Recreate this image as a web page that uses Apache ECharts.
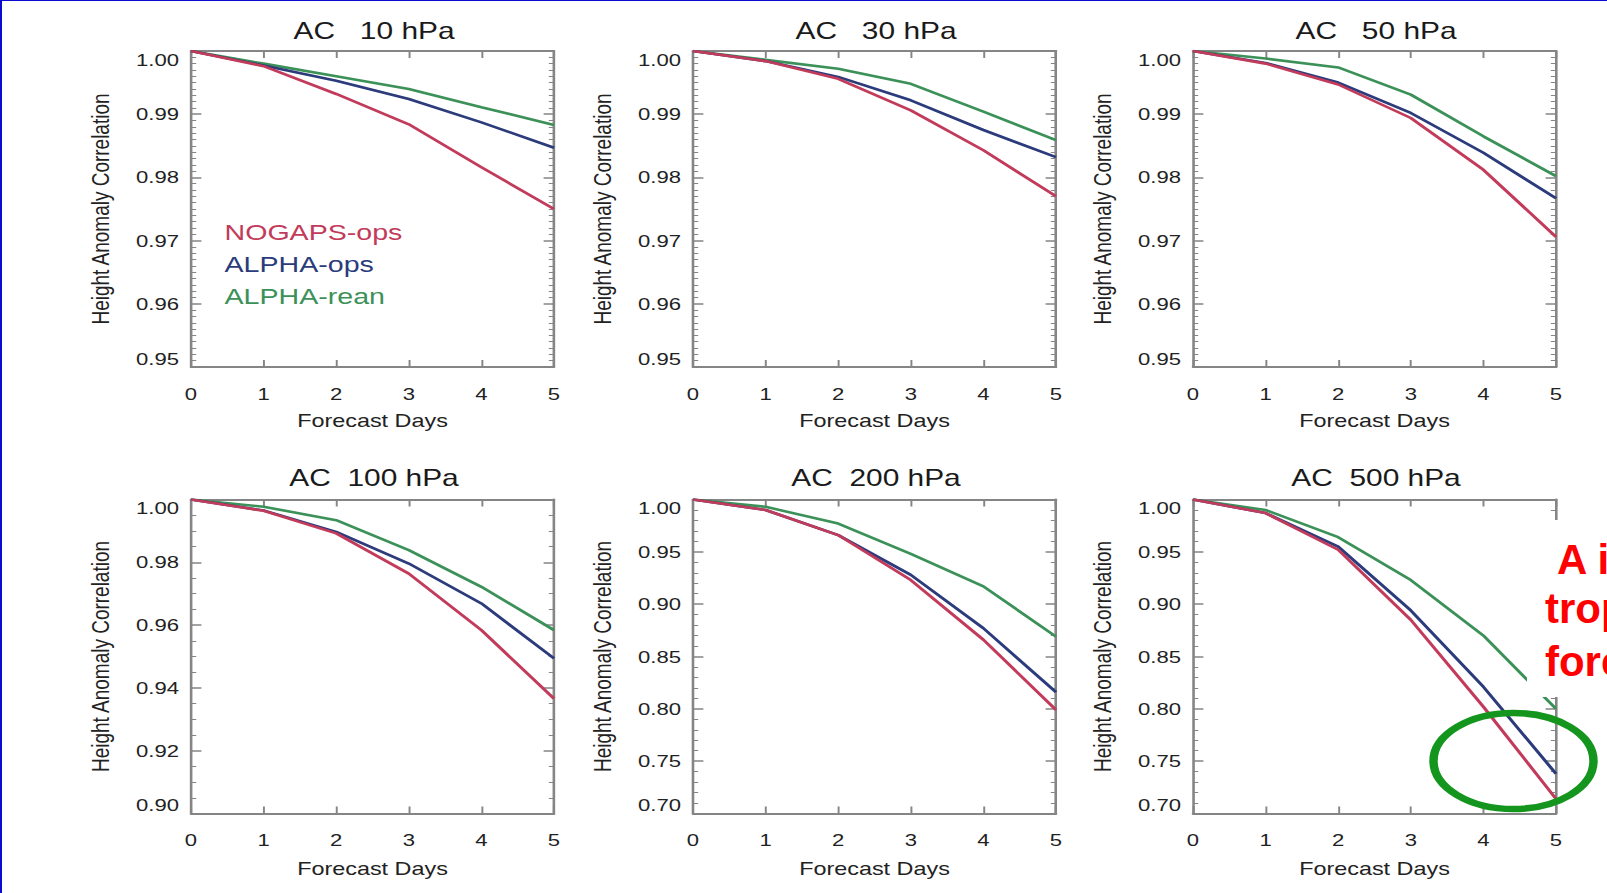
<!DOCTYPE html>
<html>
<head>
<meta charset="utf-8">
<script src="https://cdn.jsdelivr.net/npm/echarts@6/dist/echarts.min.js"></script>
<style>
  html, body { margin: 0; padding: 0; background: #fff; overflow: hidden; }
  #chart { position: absolute; left: 0; top: 0; width: 1236px; height: 893px; transform: scaleX(1.30016); transform-origin: 0 0; }
  #frame { position: absolute; left: 0; top: 0; width: 1607px; height: 893px; box-sizing: border-box;
           border-left: 2px solid #0a0ad0; border-top: 1px solid #0a0ad0; pointer-events: none; z-index: 5; }
</style>
</head>
<body>
<div id="chart"></div>
<div id="frame"></div>
<script>
// ---------------- data ----------------
const days = [0, 1, 2, 3, 4, 5];
const seriesNames = ['NOGAPS-ops', 'ALPHA-ops', 'ALPHA-rean'];
const panelTitles = ['AC   10 hPa', 'AC   30 hPa', 'AC   50 hPa', 'AC  100 hPa', 'AC  200 hPa', 'AC  500 hPa'];

const nogaps10 = [1.000, 0.9976, 0.9932, 0.9884, 0.9816, 0.9750];
const alphaOps10 = [1.000, 0.9977, 0.9953, 0.9924, 0.9887, 0.9847];
const alphaRean10 = [1.000, 0.9980, 0.9960, 0.9940, 0.9911, 0.9883];

const nogaps30 = [1.000, 0.9984, 0.9956, 0.9906, 0.9843, 0.9770];
const alphaOps30 = [1.000, 0.9984, 0.9959, 0.9922, 0.9875, 0.9832];
const alphaRean30 = [1.000, 0.9986, 0.9972, 0.9948, 0.9904, 0.9859];

const nogaps50 = [1.000, 0.9980, 0.9947, 0.9894, 0.9812, 0.9706];
const alphaOps50 = [1.000, 0.9981, 0.9950, 0.9902, 0.9839, 0.9767];
const alphaRean50 = [1.000, 0.9988, 0.9974, 0.9931, 0.9865, 0.9802];

const nogaps100 = [1.000, 0.9964, 0.9892, 0.9764, 0.9584, 0.9366];
const alphaOps100 = [1.000, 0.9965, 0.9897, 0.9796, 0.9669, 0.9494];
const alphaRean100 = [1.000, 0.9977, 0.9934, 0.9839, 0.9722, 0.9584];

const nogaps200 = [1.000, 0.990, 0.966, 0.923, 0.866, 0.799];
const alphaOps200 = [1.000, 0.990, 0.966, 0.928, 0.877, 0.816];
const alphaRean200 = [1.000, 0.993, 0.977, 0.948, 0.917, 0.869];

const nogaps500 = [1.000, 0.987, 0.952, 0.885, 0.802, 0.714];
const alphaOps500 = [1.000, 0.987, 0.955, 0.894, 0.821, 0.738];
const alphaRean500 = [1.000, 0.990, 0.964, 0.923, 0.870, 0.800];

// y tick values per panel
const yTicksUpper = [0.95, 0.96, 0.97, 0.98, 0.99, 1.00];
const yTicks100 = [0.90, 0.92, 0.94, 0.96, 0.98, 1.00];
const yTicksLower = [0.70, 0.75, 0.80, 0.85, 0.90, 0.95, 1.00];
const xTicks = [0, 1, 2, 3, 4, 5];

const panelData = [
  [nogaps10, alphaOps10, alphaRean10],
  [nogaps30, alphaOps30, alphaRean30],
  [nogaps50, alphaOps50, alphaRean50],
  [nogaps100, alphaOps100, alphaRean100],
  [nogaps200, alphaOps200, alphaRean200],
  [nogaps500, alphaOps500, alphaRean500]
];
const panelTicks = [yTicksUpper, yTicksUpper, yTicksUpper, yTicks100, yTicksLower, yTicksLower];
const panelMinor = [10, 10, 10, 4, 5, 5];

// ---------------- layout / style ----------------
const SX = 1607 / 1236;            // horizontal stretch of the original figure
const sx = v => v / SX;            // full-page x -> chart x
const FONT = 'Liberation Sans';
const colors = ['#c23b5b', '#2b3b7b', '#3b9158'];
const frameColor = '#858585';
const textColor = '#222';

const colLeft = [191, 693, 1193];
const colWidth = 363;
const rowTop = [51, 499.5];
const rowHeight = [316, 314];

const chart = echarts.init(document.getElementById('chart'), null, { renderer: 'svg' });

const grids = [], xAxes = [], yAxes = [], series = [], titles = [];

for (let p = 0; p < 6; p++) {
  const c = p % 3, r = Math.floor(p / 3);
  const left = sx(colLeft[c]), width = sx(colWidth);
  grids.push({ left: left, top: rowTop[r], width: width, height: rowHeight[r], containLabel: false });
  titles.push({
    text: panelTitles[p], left: left + width / 2 - sx(5), top: r === 0 ? 15 : 461.5, textAlign: 'center',
    textStyle: { fontFamily: FONT, fontSize: 23, fontWeight: 'normal', color: '#1a1a1a' }
  });
  const ticks = panelTicks[p];
  const yMin = ticks[0], yMax = ticks[ticks.length - 1];
  const yInt = +(ticks[1] - ticks[0]).toFixed(4);
  const axisLine = { show: true, onZero: false, lineStyle: { color: frameColor, width: 2 } };
  const xBase = {
    type: 'value', gridIndex: p, min: xTicks[0], max: xTicks[xTicks.length - 1], interval: 1,
    axisLine: axisLine, splitLine: { show: false },
    axisTick: { show: true, inside: true, length: 7, lineStyle: { color: frameColor, width: 1.5 } }
  };
  xAxes.push(Object.assign({}, xBase, {
    position: 'bottom',
    axisLabel: { show: true, margin: 18, fontFamily: FONT, fontSize: 17, color: textColor },
    name: 'Forecast Days', nameLocation: 'middle', nameGap: r === 0 ? 45 : 46,
    nameTextStyle: { fontFamily: FONT, fontSize: 18, color: textColor }
  }));
  xAxes.push(Object.assign({}, xBase, { position: 'top', axisLabel: { show: false } }));
  const yBase = {
    type: 'value', gridIndex: p, min: yMin, max: yMax, interval: yInt,
    axisLine: axisLine, splitLine: { show: false },
    axisTick: { show: true, inside: true, length: 8, lineStyle: { color: frameColor, width: 1.5 } },
    minorTick: { show: true, splitNumber: panelMinor[p], length: 4, lineStyle: { color: frameColor, width: 1 } },
    minorSplitLine: { show: false }
  };
  yAxes.push(Object.assign({}, yBase, {
    position: 'left',
    axisLabel: {
      show: true, margin: sx(12), fontFamily: FONT, fontSize: 17, color: textColor,
      formatter: v => v.toFixed(2), verticalAlignMinLabel: 'bottom', verticalAlignMaxLabel: 'top'
    },
    name: 'Height Anomaly Correlation', nameLocation: 'middle', nameGap: 60, nameRotate: 90,
    nameTextStyle: { fontFamily: FONT, fontSize: 19, color: textColor }
  }));
  yAxes.push(Object.assign({}, yBase, { position: 'right', axisLabel: { show: false } }));

  panelData[p].forEach((arr, k) => {
    series.push({
      name: seriesNames[k], type: 'line', xAxisIndex: 2 * p, yAxisIndex: 2 * p,
      data: days.map((d, j) => [d, arr[j]]),
      symbol: 'none', silent: true,
      lineStyle: { color: colors[k], width: 2.6 }, itemStyle: { color: colors[k] },
      z: 3 + (2 - k)
    });
  });
}

const option = {
  animation: false,
  backgroundColor: '#fff',
  title: titles,
  grid: grids,
  xAxis: xAxes,
  yAxis: yAxes,
  series: series,
  legend: {
    show: true, orient: 'vertical', left: sx(218) - 5, top: 216,
    itemWidth: 0, itemHeight: 22, itemGap: 10, icon: 'none', selectedMode: false,
    textStyle: { fontFamily: FONT, fontSize: 22 },
    data: seriesNames.map((n, k) => ({ name: n, textStyle: { color: colors[k] } }))
  },
  graphic: [
    { type: 'rect', z: 100, silent: true, shape: { x: sx(1527), y: 520, width: sx(90), height: 177 }, style: { fill: '#fff' } },
    { type: 'ellipse', z: 101, silent: true, shape: { cx: sx(1513.5), cy: 761, rx: sx(80), ry: 48 },
      style: { fill: 'none', stroke: '#14961e', lineWidth: 6.5 } },
    { type: 'text', z: 102, silent: true, x: sx(1557), y: 559, scaleX: 1 / SX,
      style: { text: 'A i', font: 'bold 42px "Liberation Sans"', fill: '#ff0000', verticalAlign: 'middle' } },
    { type: 'text', z: 102, silent: true, x: sx(1545), y: 608, scaleX: 1 / SX,
      style: { text: 'trop', font: 'bold 42px "Liberation Sans"', fill: '#ff0000', verticalAlign: 'middle' } },
    { type: 'text', z: 102, silent: true, x: sx(1545), y: 661, scaleX: 1 / SX,
      style: { text: 'fore', font: 'bold 42px "Liberation Sans"', fill: '#ff0000', verticalAlign: 'middle' } }
  ]
};
chart.setOption(option);
</script>
</body>
</html>
